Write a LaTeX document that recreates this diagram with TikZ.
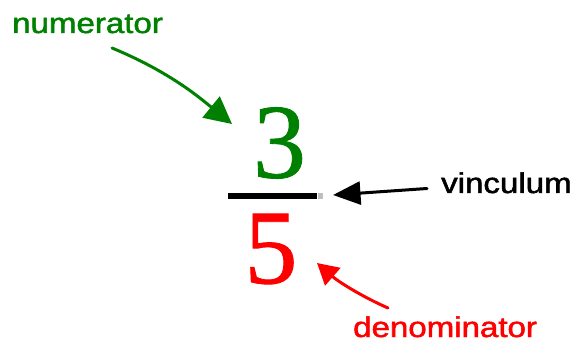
\documentclass[tikz,border=0pt]{standalone}
\usepackage{fontspec}
\setmainfont{Liberation Sans}
\newfontfamily\tagfont[FakeBold=1.6]{Liberation Sans}
\newfontfamily\digitfont[FakeBold=0.8]{Liberation Serif}
\usetikzlibrary{arrows.meta}
\definecolor{numgreen}{RGB}{0,128,0}
\definecolor{denred}{RGB}{255,0,0}
\tikzset{
  tag/.style={inner sep=0pt, anchor=base west, font=\tagfont\fontsize{28.5}{30}\selectfont},
  digit/.style={inner sep=0pt, font=\digitfont\fontsize{106}{106}\selectfont},
  ptr/.style={line width=3pt, line cap=round},
}
\begin{document}
\begin{tikzpicture}[x=1pt,y=-1pt]
\useasboundingbox (0,0) rectangle (573,342);
% labels
\node[tag, numgreen] (num) at (12,33) {\scalebox{1.16}[1]{numerator}};
\node[tag, black] (vin) at (441,193) {\scalebox{1.16}[1]{vinculum}};
\node[tag, denred] (den) at (353,337) {\scalebox{1.16}[1]{denominator}};
% fraction
\node[digit, numgreen] (three) at (279.5,143) {3};
\node[digit, denred] (five) at (271,249) {5};
\node[fill=black, inner sep=0pt, minimum width=89pt, minimum height=6.5pt, anchor=west] (bar) at (228,195.75) {};
\node[fill=black!25, inner sep=0pt, minimum width=5pt, minimum height=6.5pt, anchor=west] (barend) at (bar.east) {};
% arrow end points
\coordinate (gs) at (112,48);
\coordinate (gt) at (232,124);
\coordinate (bs) at (427,188.5);
\coordinate (bt) at (333,195);
\coordinate (rs) at (388,308);
\coordinate (rt) at (317,263);
% arrows
\draw[ptr, numgreen, -{Triangle[length=27pt,width=27pt]}] (gs) .. controls (170,72) and (200,98) .. (gt);
\draw[ptr, black, -{Triangle[length=27.5pt,width=23pt]}] (bs) -- (bt);
\draw[ptr, denred, -{Triangle[length=21pt,width=23pt]}] (rs) .. controls (365,298) and (340,283) .. (rt);
\end{tikzpicture}
\end{document}
